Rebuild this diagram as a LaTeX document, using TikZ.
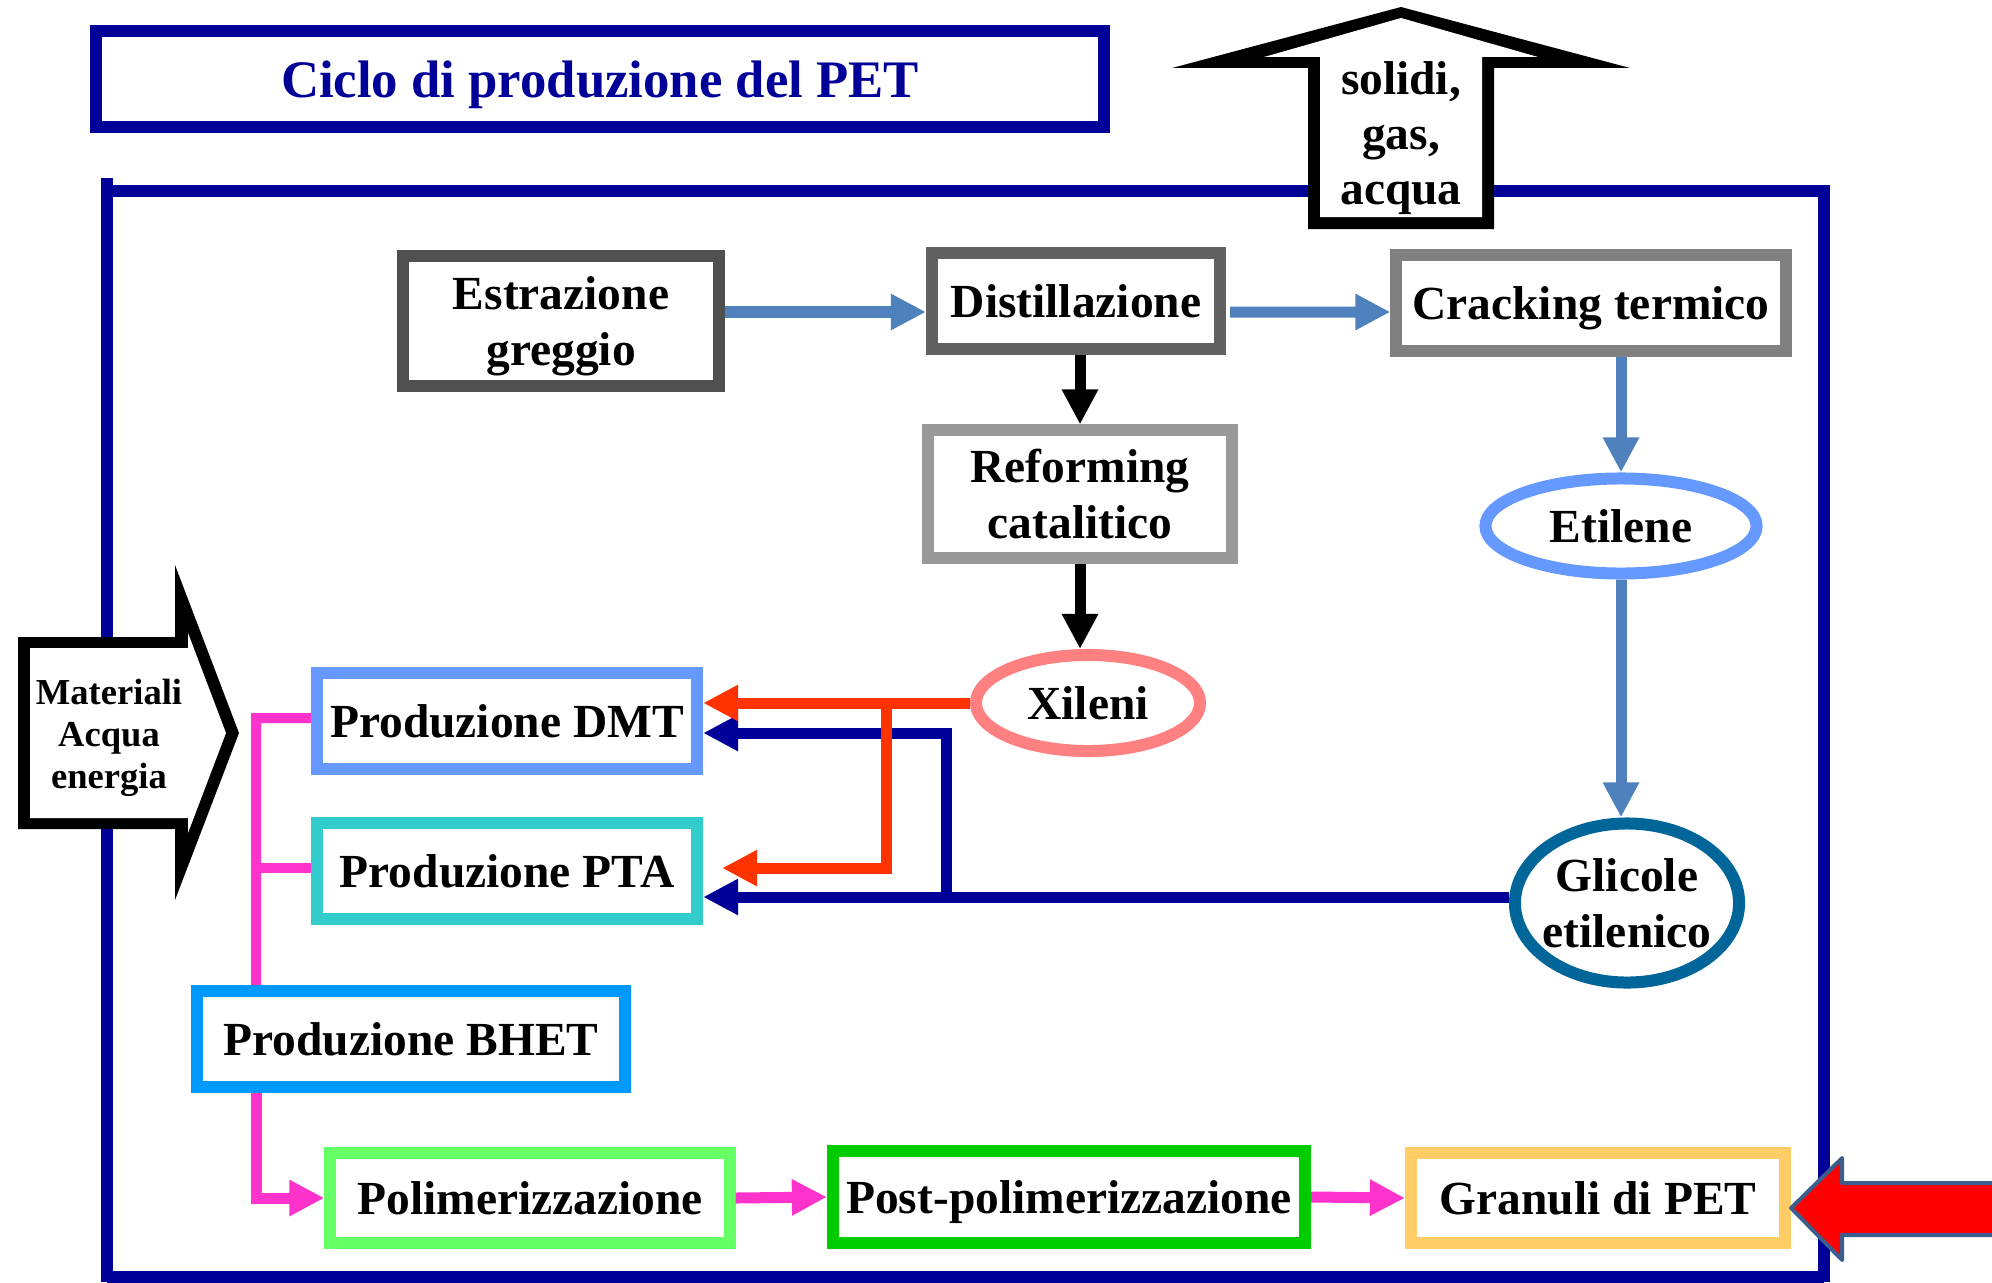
\documentclass[tikz,border=0pt]{standalone}
\usepackage{fontspec}
\setmainfont{Liberation Serif}
\usetikzlibrary{arrows.meta,shapes.geometric}

\definecolor{navy}{HTML}{000099}
\definecolor{estrgray}{HTML}{505050}
\definecolor{distgray}{HTML}{606060}
\definecolor{refgray}{HTML}{999999}
\definecolor{crackgray}{HTML}{808080}
\definecolor{etilblue}{HTML}{6699FF}
\definecolor{xilred}{HTML}{FF8080}
\definecolor{glicblue}{HTML}{006699}
\definecolor{dmtblue}{HTML}{6699FF}
\definecolor{ptacyan}{HTML}{33CCCC}
\definecolor{bhetblue}{HTML}{0099FF}
\definecolor{poligreen}{HTML}{66FF66}
\definecolor{postgreen}{HTML}{00CC00}
\definecolor{granorange}{HTML}{FFCC66}
\definecolor{steel}{HTML}{4F81BD}
\definecolor{tomato}{HTML}{FF3300}
\definecolor{pinkflow}{HTML}{FF33CC}
\definecolor{arrowedge}{HTML}{3B5E8C}

\begin{document}
\begin{tikzpicture}[x=0.01cm,y=-0.01cm,
  proc node/.style={rectangle,draw,fill=white,line width=0.12cm,inner sep=0pt,text depth=0pt,align=center,font=\bfseries\fontsize{13.5}{15.9}\selectfont},
  oval node/.style={ellipse,draw,fill=white,line width=0.12cm,inner sep=0pt,text depth=0pt,align=center,font=\bfseries\fontsize{13.5}{15.9}\selectfont},
  flow/.style={-{Triangle[length=0.35cm,width=0.34cm]},line width=0.11cm},
  pink line/.style={pinkflow,line width=0.10cm},
  big frame/.style={navy,line width=0.12cm}]

  \useasboundingbox (0,0) rectangle (1992,1282);

  % outer frame
  \draw[big frame] (107,178) -- (107,1282);
  \draw[big frame] (113,191) -- (1824,191) -- (1824,1282);
  \draw[big frame] (107,1277) -- (1824,1277);

  \node[draw=navy,line width=0.12cm,minimum width=10.07cm,minimum height=0.96cm,text=navy,text depth=0pt,
    font=\bfseries\fontsize{15}{18}\selectfont] (title) at (600,79) {Ciclo di produzione del PET};

  % outputs and inputs
  \fill (1308,229) -- (1308,68) -- (1172,68) -- (1401,7) -- (1630,68) -- (1494,68) -- (1494,229) -- cycle;
  \fill[white] (1320,217) -- (1320,57) -- (1264,57) -- (1401,18) -- (1538,57) -- (1482,57) -- (1482,217) -- cycle;
  \node[align=center,text depth=0pt,font=\bfseries\fontsize{13.5}{15.7}\selectfont] (waste) at (1401,133) {solidi,\\gas,\\acqua};

  \fill (18,637) -- (175,637) -- (175,565) -- (239,733) -- (175,900) -- (175,829) -- (18,829) -- cycle;
  \fill[white] (30,648) -- (188,648) -- (188,633) -- (226,733) -- (188,833) -- (188,818) -- (30,818) -- cycle;
  \node[align=center,text depth=0pt,font=\bfseries\fontsize{10.4}{11.9}\selectfont] (inputs) at (109,734) {Materiali\\Acqua\\energia};

  % process steps
  \node[proc node,draw=estrgray,minimum width=3.16cm,minimum height=1.30cm] (estr) at (561,321) {Estrazione\\greggio};
  \node[proc node,draw=distgray,minimum width=2.88cm,minimum height=0.96cm] (dist) at (1076,301) {Distillazione};
  \node[proc node,draw=refgray,minimum width=3.03cm,minimum height=1.27cm] (refo) at (1080,494) {Reforming\\catalitico};
  \node[proc node,draw=crackgray,minimum width=3.89cm,minimum height=0.96cm] (crack) at (1591,303) {Cracking termico};
  \node[oval node,draw=etilblue,minimum width=2.71cm,minimum height=0.95cm] (etil) at (1621,526) {Etilene};
  \node[oval node,draw=xilred,minimum width=2.24cm,minimum height=0.96cm] (xil) at (1088,703) {Xileni};
  \node[oval node,draw=glicblue,minimum width=2.24cm,minimum height=1.59cm,inner xsep=-0.21cm] (glic) at (1627,903) {Glicole\\etilenico};
  \node[proc node,draw=dmtblue,minimum width=3.80cm,minimum height=0.96cm] (dmt) at (507,721) {Produzione DMT};
  \node[proc node,draw=ptacyan,minimum width=3.80cm,minimum height=0.96cm] (pta) [below of=dmt,node distance=1.5cm] {Produzione PTA};
  \node[proc node,draw=bhetblue,minimum width=4.28cm,minimum height=0.96cm] (bhet) at (411,1039) {Produzione BHET};
  \node[proc node,draw=poligreen,minimum width=3.99cm,minimum height=0.90cm] (poli) at (530,1198) {Polimerizzazione};
  \node[proc node,draw=postgreen,minimum width=4.72cm,minimum height=0.92cm] (post) at (1069,1197) {Post-polimerizzazione};
  \node[proc node,draw=granorange,minimum width=3.74cm,minimum height=0.90cm] (gran) at (1598,1198) {Granuli di PET};

  \coordinate (bsplit) at (946,897);
  \coordinate (rsplit) at (886,703);
  \coordinate (pk) at (256,718);

  \draw[flow,steel] ([yshift=0.09cm]estr.east) -- ([yshift=0.09cm]estr.east -| dist.west);
  \draw[flow,steel] ([yshift=-0.11cm,xshift=0.04cm]dist.east) -- ([yshift=-0.09cm]crack.west);
  \draw[flow] (dist.south -| refo.north) -- (refo.north);
  \draw[flow] (refo.south) -- (refo.south |- xil.north);
  \draw[flow,steel] (crack.south -| etil.north) -- (etil.north);
  \draw[flow,steel] (etil.south) -- (etil.south |- glic.north);

  \draw[flow,navy] ([yshift=0.06cm]glic.west) -- ([yshift=0.06cm]glic.west -| pta.east);
  \draw[flow,navy] (bsplit) |- ([yshift=-0.12cm]dmt.east);
  \draw[flow,tomato] (xil.west) -- (xil.west -| dmt.east);
  \draw[flow,tomato] (rsplit) |- ([xshift=0.19cm,yshift=0.03cm]pta.east);

  \draw[pink line] ([yshift=0.03cm]dmt.west) -- (pk) -- (pk |- bhet.north);
  \draw[pink line] ([yshift=0.03cm]pta.west) -- ([yshift=0.03cm]pta.west -| pk);
  \draw[pink line,flow] (pk |- bhet.south) |- (poli.west);
  \draw[flow,pinkflow] (poli.east) -- (post.west);
  \draw[flow,pinkflow] (post.east) -- (gran.west);

  % recycled material coming in
  \filldraw[fill=red,draw=arrowedge,line width=0.04cm,line join=round]
    ([yshift=-0.1cm]gran.east) -- ++(51,-50) -- ++(0,25) -- ++(180,0) -- ++(0,52) -- ++(-180,0) -- ++(0,25) -- cycle;
\end{tikzpicture}
\end{document}
